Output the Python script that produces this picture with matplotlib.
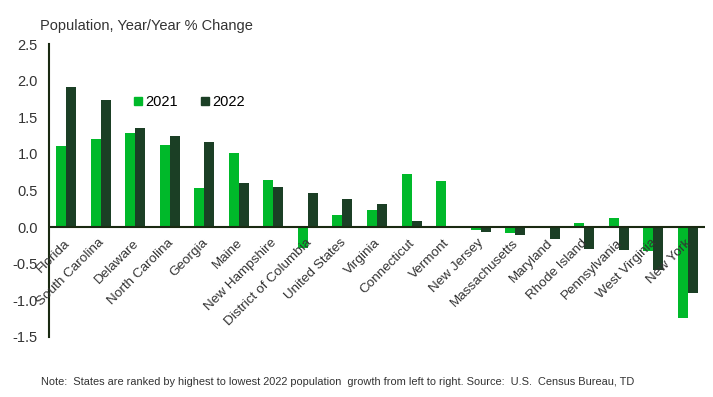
import matplotlib.pyplot as plt
import numpy as np
from matplotlib.patches import Patch

plt.rcParams["font.family"] = ["Liberation Sans", "DejaVu Sans"]

states = ["Florida", "South Carolina", "Delaware", "North Carolina", "Georgia",
          "Maine", "New Hampshire", "District of Columbia", "United States",
          "Virginia", "Connecticut", "Vermont", "New Jersey", "Massachusetts",
          "Maryland", "Rhode Island", "Pennsylvania", "West Virginia", "New York"]
y2021 = [1.11, 1.20, 1.28, 1.12, 0.54, 1.01, 0.65, -0.29, 0.16, 0.24, 0.73,
         0.63, -0.04, -0.08, 0.02, 0.06, 0.13, -0.32, -1.24]
y2022 = [1.91, 1.73, 1.35, 1.25, 1.16, 0.60, 0.55, 0.46, 0.38, 0.31, 0.08,
         0.00, -0.07, -0.11, -0.16, -0.30, -0.31, -0.58, -0.90]
yticks = [-1.5, -1.0, -0.5, 0.0, 0.5, 1.0, 1.5, 2.0, 2.5]

c21 = "#00b92a"
c22 = "#1b3f25"

fig = plt.figure(figsize=(7.13, 3.97), dpi=100)
ax = fig.add_axes([49 / 713, 1 - 337 / 397, 656 / 713, 293 / 397])

x = np.arange(len(states))
w = 0.29
ax.bar(x - w / 2, y2021, w, color=c21)
ax.bar(x + w / 2, y2022, w, color=c22)

ax.set_xlim(-0.5, len(states) - 0.5)
ax.set_ylim(-1.5, 2.5)
ax.set_yticks(yticks)
ax.set_yticklabels([f"{t:.1f}" for t in yticks], fontsize=10.5, color="#333333")
ax.tick_params(axis="y", length=0, pad=8)
ax.set_xticks([])
for s in ["top", "right", "bottom"]:
    ax.spines[s].set_visible(False)
ax.spines["left"].set_color("#1a2a12")
ax.spines["left"].set_linewidth(1.5)
ax.axhline(0, color="#1a2a12", lw=1.5, zorder=3)

for i, name in enumerate(states):
    ax.annotate(name, (i, 0), xytext=(-2, -7), textcoords="offset points",
                rotation=45, ha="right", va="top", rotation_mode="anchor",
                fontsize=9.7, color="#333333", zorder=6)

handles = [Patch(color=c21, label="2021"), Patch(color=c22, label="2022")]
ax.legend(handles=handles, loc="upper left", bbox_to_anchor=(0.11, 0.87),
          ncol=2, frameon=False, fontsize=10.5, handlelength=0.55,
          handleheight=0.55, handletextpad=0.2, columnspacing=1.6)

fig.text(40 / 713, 1 - 30 / 397, "Population, Year/Year % Change",
         fontsize=10.5, color="#333333", va="baseline")
fig.text(41 / 713, 1 - 385 / 397,
         "Note:  States are ranked by highest to lowest 2022 population  growth from left to right. Source:  U.S.  Census Bureau, TD",
         fontsize=7.9, color="#333333", va="baseline")

fig.savefig("out.png", dpi=100)
